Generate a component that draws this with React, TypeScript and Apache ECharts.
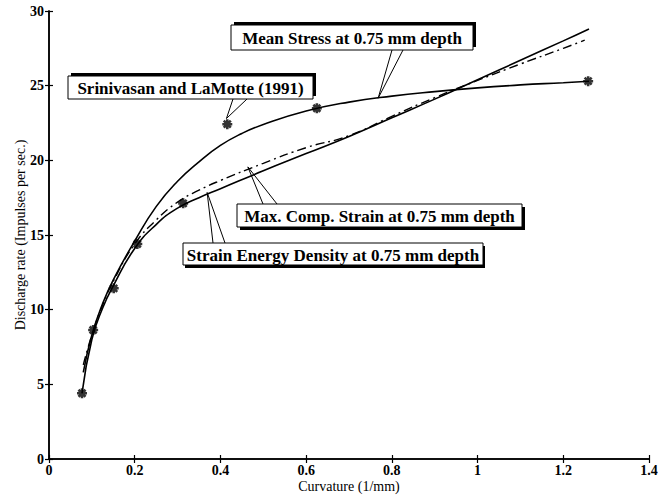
import React, { useEffect, useRef } from "react";
import * as echarts from "echarts";

// Observed data: Srinivasan and LaMotte (1991)
const obsX = [0.077, 0.103, 0.151, 0.206, 0.313, 0.416, 0.625, 1.258];
const obsY = [4.4, 8.64, 11.43, 14.4, 17.12, 22.42, 23.49, 25.3];

// Mean Stress at 0.75 mm depth
const meanX = [0.08, 0.1, 0.125, 0.15, 0.2, 0.25, 0.3, 0.35, 0.4, 0.45, 0.5, 0.6, 0.7, 0.8, 0.9, 1.0, 1.1, 1.2, 1.26];
const meanY = [5.8, 8.3, 10.4, 12.0, 14.6, 16.9, 18.6, 19.9, 21.0, 21.8, 22.4, 23.3, 23.9, 24.3, 24.6, 24.85, 25.05, 25.2, 25.3];

// Strain Energy Density at 0.75 mm depth
const sedX = [0.077, 0.1, 0.125, 0.15, 0.2, 0.25, 0.3, 0.35, 0.4, 0.5, 0.6, 0.7, 0.8, 0.9, 1.0, 1.1, 1.2, 1.26];
const sedY = [4.4, 8.0, 10.1, 11.6, 14.1, 15.7, 16.8, 17.5, 18.1, 19.3, 20.45, 21.6, 22.85, 24.1, 25.4, 26.7, 28.0, 28.8];

// Max. Comp. Strain at 0.75 mm depth
const mcsX = [0.08, 0.1, 0.125, 0.15, 0.2, 0.25, 0.3, 0.35, 0.4, 0.5, 0.6, 0.7, 0.8, 0.9, 1.0, 1.1, 1.2, 1.25];
const mcsY = [6.3, 8.3, 10.3, 11.9, 14.4, 16.0, 17.2, 18.0, 18.65, 19.8, 20.85, 21.65, 22.95, 24.2, 25.35, 26.45, 27.5, 28.05];

const X_MIN = 0, X_MAX = 1.4, X_STEP = 0.2;
const Y_MIN = 0, Y_MAX = 30, Y_STEP = 5;

const X_NAME = "Curvature (1/mm)";
const Y_NAME = "Discharge rate (Impulses per sec.)";

const LABEL_MEAN = "Mean Stress at 0.75 mm depth";
const LABEL_OBS = "Srinivasan and LaMotte (1991)";
const LABEL_MCS = "Max. Comp. Strain at 0.75 mm depth";
const LABEL_SED = "Strain Energy Density at 0.75 mm depth";

const FONT = "Liberation Serif";

const zip = (xs: number[], ys: number[]) => xs.map((x, i) => [x, ys[i]]);

export default function App() {
  const ref = useRef<HTMLDivElement>(null);
  useEffect(() => {
    const chart = echarts.init(ref.current!, null, { renderer: "svg" });
    const line = { show: true, lineStyle: { color: "#000", width: 1.5 } };
    const tick = { show: true, inside: true, length: 4, lineStyle: { color: "#000", width: 1.2 } };
    const tickLabel = { fontFamily: FONT, fontSize: 14, fontWeight: "bold" as const, color: "#000" };
    chart.setOption({
      animation: false,
      backgroundColor: "#fff",
      grid: { left: 49, top: 11, width: 600, height: 448, containLabel: false, outerBoundsMode: "none" },
      xAxis: [
        {
          type: "value", min: X_MIN, max: X_MAX, interval: X_STEP, position: "bottom",
          axisLine: line, axisTick: tick, splitLine: { show: false },
          axisLabel: { ...tickLabel, margin: 4 },
          name: X_NAME, nameLocation: "middle", nameGap: 20, nameMoveOverlap: false,
          nameTextStyle: { fontFamily: FONT, fontSize: 14, color: "#000" },
        },
        {
          type: "value", min: X_MIN, max: X_MAX, interval: X_STEP, position: "top",
          axisLine: line, axisTick: tick, splitLine: { show: false }, axisLabel: { show: false },
        },
      ],
      yAxis: [
        {
          type: "value", min: Y_MIN, max: Y_MAX, interval: Y_STEP, position: "left",
          axisLine: line, axisTick: tick, splitLine: { show: false },
          axisLabel: { ...tickLabel, margin: 5 },
          name: Y_NAME, nameLocation: "middle", nameGap: 22, nameMoveOverlap: false,
          nameTextStyle: { fontFamily: FONT, fontSize: 14, color: "#000" },
        },
        {
          type: "value", min: Y_MIN, max: Y_MAX, interval: Y_STEP, position: "right",
          axisLine: line, axisTick: tick, splitLine: { show: false }, axisLabel: { show: false },
        },
      ],
      series: [
        {
          type: "line", data: zip(sedX, sedY), smooth: true, showSymbol: false,
          lineStyle: { color: "#000", width: 1.6 }, z: 3,
        },
        {
          type: "line", data: zip(meanX, meanY), smooth: true, showSymbol: false,
          lineStyle: { color: "#000", width: 1.6 }, z: 3,
        },
        {
          type: "line", data: zip(mcsX, mcsY), smooth: true, showSymbol: false,
          lineStyle: { color: "#000", width: 1.4, type: [9, 4, 2, 4] }, z: 3,
        },
        {
          type: "scatter", data: zip(obsX, obsY),
          symbol: "path://M0,5L10,5M5,0L5,10M1.5,1.5L8.5,8.5M8.5,1.5L1.5,8.5",
          symbolSize: 10,
          itemStyle: { color: "#000", borderColor: "#000", borderWidth: 2.6 },
          z: 5,
        },
      ],
    });

    const toPx = (p: number[]) => chart.convertToPixel({ seriesIndex: 0 }, p) as number[];

    const callouts = [
      { text: LABEL_MEAN, x: 231, y: 25, w: 242, h: 25, a: 392, b: 403, fromTop: false, sx: 3, sy: -3, target: [0.768, 24.16] },
      { text: LABEL_OBS, x: 68, y: 76, w: 245, h: 23, a: 233, b: 247, fromTop: false, sx: 3, sy: -3, target: [0.414, 22.8] },
      { text: LABEL_MCS, x: 237, y: 204, w: 285, h: 23, a: 263, b: 277, fromTop: true, sx: 3, sy: 3, target: [0.464, 19.56] },
      { text: LABEL_SED, x: 183, y: 243, w: 300, h: 22, a: 213, b: 225, fromTop: true, sx: 2, sy: 3, target: [0.369, 17.85] },
    ];

    const graphics: any[] = [];
    callouts.forEach((c) => {
      const t = toPx(c.target);
      const ey = c.fromTop ? c.y : c.y + c.h;
      graphics.push({
        type: "polyline", z: 10,
        shape: { points: [[c.a, ey], t, [c.b, ey]] },
        style: { stroke: "#000", lineWidth: 1, fill: null },
      });
      graphics.push({
        type: "rect", z: 11,
        shape: { x: c.x + c.sx, y: c.y + c.sy, width: c.w, height: c.h },
        style: { fill: "#000" },
      });
      graphics.push({
        type: "rect", z: 12,
        shape: { x: c.x, y: c.y, width: c.w, height: c.h },
        style: { fill: "#fff", stroke: "#000", lineWidth: 1 },
      });
      graphics.push({
        type: "text", z: 13,
        x: c.x + c.w / 2, y: c.y + c.h / 2 + 1,
        style: {
          text: c.text, fill: "#000",
          fontFamily: FONT, fontSize: 17, fontWeight: "bold",
          align: "center", verticalAlign: "middle",
        },
      });
    });
    chart.setOption({ graphic: graphics });

    return () => chart.dispose();
  }, []);
  return <div ref={ref} style={{ position: "fixed", left: 0, top: 0, width: 668, height: 496 }} />;
}
